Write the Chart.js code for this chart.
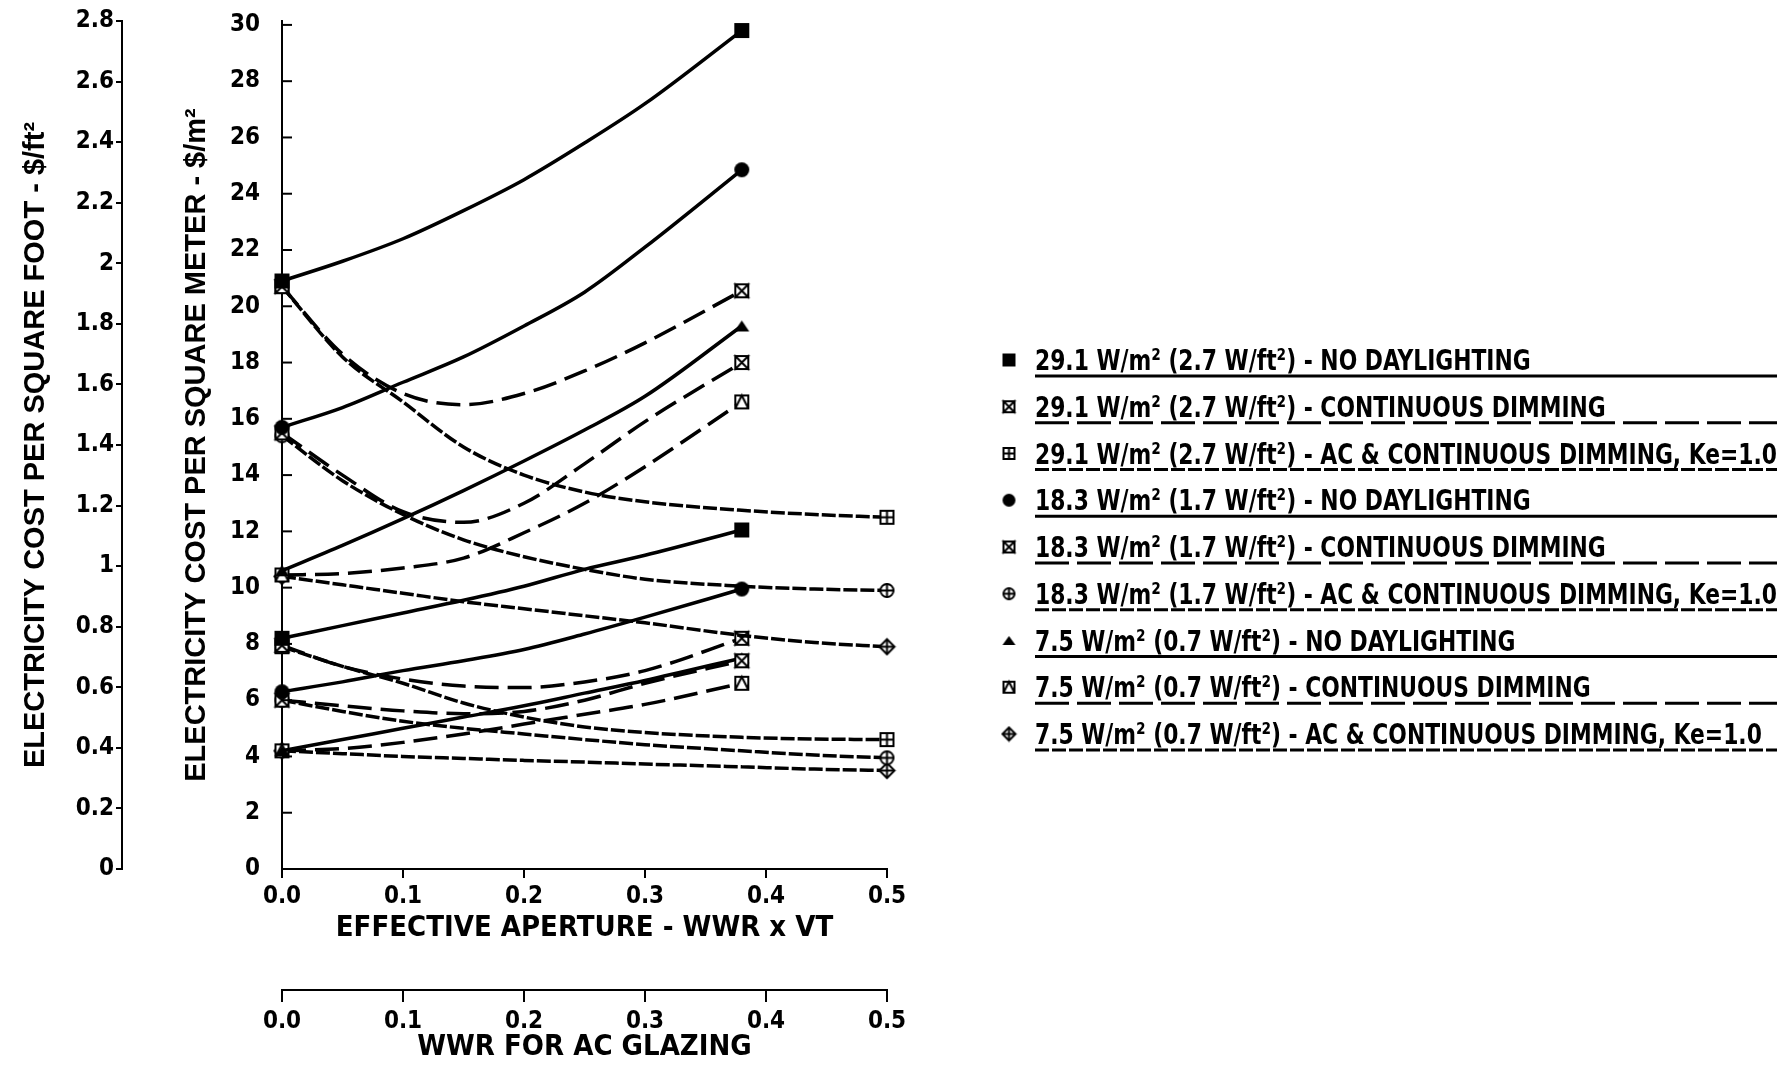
<!DOCTYPE html>
<html>
<head>
<meta charset="utf-8">
<script src="https://cdn.jsdelivr.net/npm/chart.js@4.4.1/dist/chart.umd.min.js"></script>
<style>
  html, body { margin: 0; padding: 0; background: #fff; }
  #wrap { width: 1788px; height: 1065px; }
</style>
</head>
<body>
<div id="wrap"><canvas id="myChart" width="1788" height="1065"></canvas></div>
<script>
const NARROW = "'DejaVu Sans Condensed', 'Liberation Sans Narrow', sans-serif";
const WIDE = "'Liberation Sans', Arial, sans-serif";

// x positions: effective aperture (WWR x VT) and WWR for AC glazing
const xDim = [0, 0.05, 0.1, 0.15, 0.2, 0.25, 0.3, 0.38];
const xAC  = [0, 0.05, 0.1, 0.15, 0.2, 0.25, 0.3, 0.38, 0.44, 0.5];

// upper family of curves ($/m2)
const hi291NoDL = [20.9, 21.6, 22.4, 23.4, 24.5, 25.8, 27.2, 29.8];
const hi291CD   = [20.7, 18.3, 16.9, 16.5, 16.9, 17.7, 18.7, 20.55];
const hi291AC   = [20.7, 18.2, 16.6, 15.0, 14.0, 13.4, 13.05, 12.75, 12.6, 12.5];
const hi183NoDL = [15.7, 16.4, 17.3, 18.2, 19.3, 20.5, 22.1, 24.85];
const hi183CD   = [15.5, 14.0, 12.7, 12.32, 13.0, 14.4, 15.9, 18.0];
const hi183AC   = [15.4, 13.8, 12.6, 11.7, 11.1, 10.65, 10.3, 10.05, 9.95, 9.9];
const hi75NoDL  = [10.6, 11.5, 12.45, 13.45, 14.5, 15.6, 16.8, 19.3];
const hi75CD    = [10.45, 10.5, 10.7, 11.05, 11.95, 13.0, 14.3, 16.6];
const hi75AC    = [10.4, 10.1, 9.8, 9.5, 9.25, 9.0, 8.75, 8.3, 8.05, 7.9];

// lower family of curves ($/m2)
const lo291NoDL = [8.2, 8.65, 9.1, 9.55, 10.05, 10.65, 11.15, 12.05];
const lo291CD   = [7.95, 7.2, 6.75, 6.5, 6.45, 6.65, 7.05, 8.2];
const lo291AC   = [7.9, 7.2, 6.6, 5.9, 5.4, 5.05, 4.85, 4.68, 4.62, 4.6];
const lo183NoDL = [6.3, 6.65, 7.05, 7.4, 7.8, 8.35, 8.95, 9.95];
const lo183CD   = [6.0, 5.8, 5.62, 5.52, 5.6, 6.0, 6.6, 7.4];
const lo183AC   = [6.0, 5.6, 5.25, 5.0, 4.8, 4.6, 4.42, 4.2, 4.05, 3.95];
const lo75NoDL  = [4.2, 4.6, 5.0, 5.4, 5.8, 6.25, 6.7, 7.5];
const lo75CD    = [4.2, 4.28, 4.5, 4.8, 5.15, 5.5, 5.85, 6.6];
const lo75AC    = [4.2, 4.1, 4.0, 3.93, 3.86, 3.8, 3.73, 3.63, 3.55, 3.5];

// tick labels
const yTicksM2  = [0, 2, 4, 6, 8, 10, 12, 14, 16, 18, 20, 22, 24, 26, 28, 30];
const yTicksFt2 = [0, 0.2, 0.4, 0.6, 0.8, 1, 1.2, 1.4, 1.6, 1.8, 2, 2.2, 2.4, 2.6, 2.8];
const xTicks    = [0, 0.1, 0.2, 0.3, 0.4, 0.5];
const M2_PER_FT2 = 10.7639;

const legendLabels = [
  '29.1 W/m² (2.7 W/ft²) - NO DAYLIGHTING',
  '29.1 W/m² (2.7 W/ft²) - CONTINUOUS DIMMING',
  '29.1 W/m² (2.7 W/ft²) - AC & CONTINUOUS DIMMING, Ke=1.0',
  '18.3 W/m² (1.7 W/ft²) - NO DAYLIGHTING',
  '18.3 W/m² (1.7 W/ft²) - CONTINUOUS DIMMING',
  '18.3 W/m² (1.7 W/ft²) - AC & CONTINUOUS DIMMING, Ke=1.0',
  '7.5 W/m² (0.7 W/ft²) - NO DAYLIGHTING',
  '7.5 W/m² (0.7 W/ft²) - CONTINUOUS DIMMING',
  '7.5 W/m² (0.7 W/ft²) - AC & CONTINUOUS DIMMING, Ke=1.0'
];
const markerKinds = ['sqFill', 'sqX', 'sqPlus', 'dot', 'sqX', 'circPlus', 'tri', 'sqTri', 'diaPlus'];
const dashKinds = ['solid', 'long', 'short', 'solid', 'long', 'short', 'solid', 'long', 'short'];

function makeMarker(kind, s) {
  const pad = 2, n = s + pad * 2;
  const c = document.createElement('canvas');
  c.width = n; c.height = n;
  const g = c.getContext('2d');
  const a = pad, b = pad + s, m = n / 2;
  g.lineWidth = 2; g.strokeStyle = '#000'; g.fillStyle = '#fff';
  if (kind === 'sqFill') {
    g.fillStyle = '#000'; g.fillRect(a, a, s, s);
  } else if (kind === 'dot') {
    g.fillStyle = '#000'; g.beginPath(); g.arc(m, m, s / 2, 0, Math.PI * 2); g.fill();
  } else if (kind === 'tri') {
    g.fillStyle = '#000'; g.beginPath();
    g.moveTo(m, a + 2); g.lineTo(b, b - 2); g.lineTo(a, b - 2); g.closePath(); g.fill();
  } else if (kind === 'circPlus') {
    g.beginPath(); g.arc(m, m, s / 2 - 1, 0, Math.PI * 2); g.fill(); g.stroke();
    g.beginPath(); g.moveTo(m, a); g.lineTo(m, b); g.moveTo(a, m); g.lineTo(b, m); g.stroke();
  } else if (kind === 'diaPlus') {
    g.beginPath(); g.moveTo(m, a); g.lineTo(b, m); g.lineTo(m, b); g.lineTo(a, m); g.closePath();
    g.fill(); g.stroke();
    g.beginPath(); g.moveTo(m, a); g.lineTo(m, b); g.moveTo(a, m); g.lineTo(b, m); g.stroke();
  } else {
    g.fillRect(a, a, s, s); g.strokeRect(a + 1, a + 1, s - 2, s - 2);
    g.beginPath();
    if (kind === 'sqX') { g.moveTo(a, a); g.lineTo(b, b); g.moveTo(b, a); g.lineTo(a, b); }
    if (kind === 'sqPlus') { g.moveTo(m, a); g.lineTo(m, b); g.moveTo(a, m); g.lineTo(b, m); }
    if (kind === 'sqTri') { g.moveTo(a + 1, b - 1); g.lineTo(m, a + 1); g.lineTo(b - 1, b - 1); }
    g.stroke();
  }
  return c;
}

const plotMarkers = markerKinds.map(k => makeMarker(k, 15));
const legendMarkers = markerKinds.map(k => makeMarker(k, 13));

function plotDash(d) { return d === 'long' ? [24, 9] : d === 'short' ? [14, 3] : []; }
function legendDash(d) { return d === 'long' ? [34, 8] : d === 'short' ? [14, 3] : []; }

const series = [
  [0, xDim, hi291NoDL], [1, xDim, hi291CD], [2, xAC, hi291AC],
  [3, xDim, hi183NoDL], [4, xDim, hi183CD], [5, xAC, hi183AC],
  [6, xDim, hi75NoDL],  [7, xDim, hi75CD],  [8, xAC, hi75AC],
  [0, xDim, lo291NoDL], [1, xDim, lo291CD], [2, xAC, lo291AC],
  [3, xDim, lo183NoDL], [4, xDim, lo183CD], [5, xAC, lo183AC],
  [6, xDim, lo75NoDL],  [7, xDim, lo75CD],  [8, xAC, lo75AC]
];

const datasets = series.map(([k, xs, ys]) => ({
  label: legendLabels[k],
  data: xs.map((x, i) => ({ x: x, y: ys[i] })),
  borderColor: '#000',
  backgroundColor: '#000',
  borderWidth: 3.5,
  borderDash: plotDash(dashKinds[k]),
  pointStyle: plotMarkers[k],
  pointRadius: xs.map((x, i) => (i === 0 || i === xs.length - 1) ? 7 : 0),
  pointHoverRadius: 0,
  cubicInterpolationMode: 'monotone',
  fill: false,
  clip: false,
  xAxisID: 'x',
  yAxisID: 'y'
}));

const tickFont = { family: NARROW, size: 24, weight: 'bold' };
const xTitleFont = { family: NARROW, size: 29, weight: 'bold', lineHeight: 1 };
const yTitleFont = { family: WIDE, size: 29, weight: 'bold', lineHeight: 1 };

// main $/m2 axis ticks point inward
const inwardTicks = {
  id: 'inwardTicks',
  afterDraw(chart) {
    const { ctx, chartArea, scales } = chart;
    ctx.save();
    ctx.strokeStyle = '#000';
    ctx.lineWidth = 2;
    yTicksM2.forEach(v => {
      const py = scales.y.getPixelForValue(v);
      ctx.beginPath(); ctx.moveTo(chartArea.left, py); ctx.lineTo(chartArea.left + 10, py); ctx.stroke();
    });
    ctx.restore();
  }
};

const legendBox = {
  id: 'legendBox',
  afterDraw(chart) {
    const ctx = chart.ctx;
    const x0 = 1035, x1 = 1777;
    ctx.save();
    ctx.fillStyle = '#000';
    ctx.strokeStyle = '#000';
    ctx.textAlign = 'left';
    ctx.textBaseline = 'alphabetic';
    ctx.font = 'bold 29px ' + NARROW;
    // squeeze the text so the longest entry ends where the rules end
    const sx = (x1 - x0) / ctx.measureText(legendLabels[2]).width;
    legendLabels.forEach((txt, i) => {
      const yc = 360 + i * 46.75;
      const mk = legendMarkers[i];
      ctx.drawImage(mk, 1009 - mk.width / 2, yc - mk.height / 2);
      ctx.save();
      ctx.translate(x0, yc + 10);
      ctx.scale(sx, 1);
      ctx.fillText(txt, 0, 0);
      ctx.restore();
      ctx.lineWidth = 3;
      ctx.setLineDash(legendDash(dashKinds[i]));
      ctx.beginPath(); ctx.moveTo(x0, yc + 16); ctx.lineTo(x1, yc + 16); ctx.stroke();
      ctx.setLineDash([]);
    });
    ctx.restore();
  }
};

new Chart(document.getElementById('myChart'), {
  type: 'line',
  data: { datasets: datasets },
  options: {
    responsive: false,
    animation: false,
    devicePixelRatio: 1,
    events: [],
    layout: { padding: { top: 21, right: 901, left: 0, bottom: 0 } },
    plugins: { legend: { display: false }, tooltip: { enabled: false } },
    scales: {
      x: {
        type: 'linear', position: 'bottom', min: 0, max: 0.5, weight: 0,
        afterBuildTicks: ax => { ax.ticks = xTicks.map(v => ({ value: v })); },
        afterFit: ax => { ax.height = 121; },
        ticks: { font: tickFont, color: '#000', padding: 4, maxRotation: 0, autoSkip: false,
                 callback: v => v.toFixed(1) },
        grid: { drawOnChartArea: false, drawTicks: true, tickLength: 9, color: '#000', lineWidth: 2 },
        border: { display: true, color: '#000', width: 2 },
        title: { display: true, text: 'EFFECTIVE APERTURE - WWR x VT', color: '#000',
                 font: xTitleFont, padding: { top: 0, bottom: 47 } }
      },
      x2: {
        type: 'linear', position: 'bottom', min: 0, max: 0.5, weight: 1,
        afterBuildTicks: ax => { ax.ticks = xTicks.map(v => ({ value: v })); },
        afterFit: ax => { ax.height = 75; },
        ticks: { font: tickFont, color: '#000', padding: 5, maxRotation: 0, autoSkip: false,
                 callback: v => v.toFixed(1) },
        grid: { drawOnChartArea: false, drawTicks: true, tickLength: 12, color: '#000', lineWidth: 2 },
        border: { display: true, color: '#000', width: 2 },
        title: { display: true, text: 'WWR FOR AC GLAZING', color: '#000',
                 font: xTitleFont, padding: { top: 0, bottom: 3 } }
      },
      y: {
        type: 'linear', position: 'left', min: 0, max: yTicksFt2[yTicksFt2.length - 1] * M2_PER_FT2, weight: 0,
        afterBuildTicks: ax => { ax.ticks = yTicksM2.map(v => ({ value: v })); },
        afterFit: ax => { ax.width = 160; },
        ticks: { font: tickFont, color: '#000', padding: 2, callback: v => String(v) },
        // outward tick room is left blank; the visible ticks point inward (plugin above)
        grid: { drawOnChartArea: false, drawTicks: true, tickLength: 20, tickColor: 'rgba(0,0,0,0)' },
        border: { display: true, color: '#000', width: 2 },
        title: { display: true, text: 'ELECTRICITY COST PER SQUARE METER - $/m²', color: '#000',
                 font: yTitleFont, padding: { top: 60, bottom: 0 } }
      },
      y2: {
        type: 'linear', position: 'left', min: 0, max: yTicksFt2[yTicksFt2.length - 1], weight: 1,
        afterBuildTicks: ax => { ax.ticks = yTicksFt2.map(v => ({ value: v })); },
        afterFit: ax => { ax.width = 122; },
        ticks: { font: tickFont, color: '#000', padding: 2, callback: v => String(Math.round(v * 10) / 10) },
        grid: { drawOnChartArea: false, drawTicks: true, tickLength: 6, color: '#000', lineWidth: 2 },
        border: { display: true, color: '#000', width: 2 },
        title: { display: true, text: 'ELECTRICITY COST PER SQUARE FOOT - $/ft²', color: '#000',
                 font: yTitleFont, padding: { top: 21, bottom: 0 } }
      }
    }
  },
  plugins: [inwardTicks, legendBox]
});
</script>
</body>
</html>
